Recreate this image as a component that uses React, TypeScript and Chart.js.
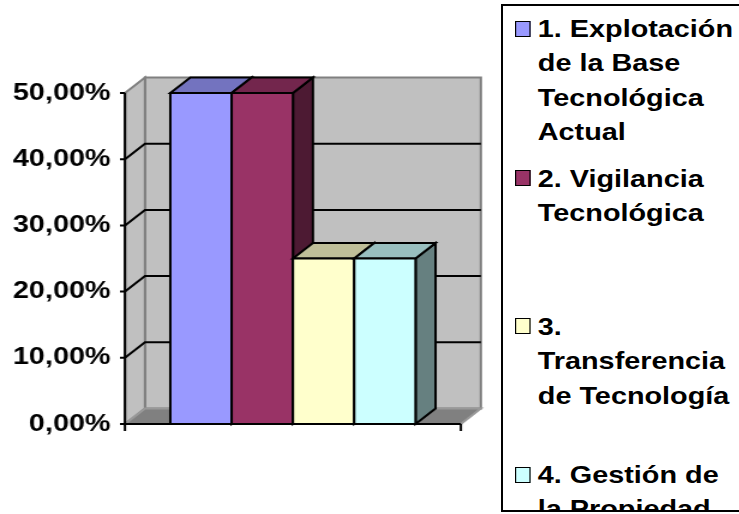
import React, { useEffect, useRef } from "react";
import { Chart, registerables } from "chart.js";

Chart.register(...registerables);

// ---- data ----
const CATEGORIES = [""];
const SERIES_NAMES = [
  "1. Explotación de la Base Tecnológica Actual",
  "2. Vigilancia Tecnológica",
  "3. Transferencia de Tecnología",
  "4. Gestión de la Propiedad Intelectual",
];
const SERIES_VALUES = [50, 50, 25, 25];
const Y_TICKS = [0, 10, 20, 30, 40, 50];
const Y_TICK_LABELS = ["0,00%", "10,00%", "20,00%", "30,00%", "40,00%", "50,00%"];
const LEGEND_LINES = [
  ["1. Explotación", "de la Base", "Tecnológica", "Actual"],
  ["2. Vigilancia", "Tecnológica"],
  ["3.", "Transferencia", "de Tecnología"],
  ["4. Gestión de", "la Propiedad", "Intelectual"],
];

// ---- styles ----
const FRONT = ["#9999FF", "#993366", "#FFFFCC", "#CCFFFF"];
const TOP = ["#7373BF", "#73264D", "#BFBF99", "#99BFBF"];
const SIDE = ["#4D4D80", "#4D1A33", "#808066", "#668080"];
const WALL = "#C0C0C0";
const WALL_EDGE = "#808080";
const FLOOR = "#808080";

const W = 739;
const H = 514;
const S = 1.2; // horizontal stretch of the picture
const CW = Math.round(W / S);
const DX = 20 / S;
const DY = 15.5;
const TICK_LEN = 5 / S;
const TICK_DOWN = 7;
const FONT = '"Liberation Sans", Arial, sans-serif';

const LEGEND_SWATCH_TOP = [15, 164, 312, 461];
const LEGEND_TEXT_TOP = [5.7, 155.7, 303.7, 451.7];

type Pt = [number, number];
function poly(ctx: CanvasRenderingContext2D, pts: Pt[]) {
  ctx.beginPath();
  ctx.moveTo(pts[0][0], pts[0][1]);
  for (let i = 1; i < pts.length; i++) ctx.lineTo(pts[i][0], pts[i][1]);
  ctx.closePath();
}

const threeD = {
  id: "threeD",
  beforeDatasetsDraw(chart: any) {
    const ctx: CanvasRenderingContext2D = chart.ctx;
    const ca = chart.chartArea;
    const ys = chart.scales.y;
    const top = ys.getPixelForValue(Y_TICKS[Y_TICKS.length - 1]);
    const bot = ys.getPixelForValue(Y_TICKS[0]);
    const L = ca.left;
    const R = ca.right;
    ctx.save();
    ctx.lineJoin = "miter";
    ctx.lineWidth = 2;
    // back wall
    ctx.fillStyle = WALL;
    ctx.strokeStyle = WALL_EDGE;
    poly(ctx, [[L + DX, top - DY], [R + DX, top - DY], [R + DX, bot - DY], [L + DX, bot - DY]]);
    ctx.fill();
    ctx.stroke();
    // left wall
    poly(ctx, [[L, top], [L + DX, top - DY], [L + DX, bot - DY], [L, bot]]);
    ctx.fill();
    ctx.stroke();
    // floor
    ctx.fillStyle = FLOOR;
    ctx.strokeStyle = "#999999";
    poly(ctx, [[L, bot], [L + DX, bot - DY], [R + DX, bot - DY], [R, bot]]);
    ctx.fill();
    ctx.stroke();
    // gridlines
    ctx.strokeStyle = "#000";
    for (const v of Y_TICKS.slice(1, -1)) {
      const py = ys.getPixelForValue(v);
      ctx.beginPath();
      ctx.moveTo(L, py);
      ctx.lineTo(L + DX, py - DY);
      ctx.lineTo(R + DX, py - DY);
      ctx.stroke();
    }
    // axes
    ctx.beginPath();
    ctx.moveTo(L, top);
    ctx.lineTo(L, bot);
    for (const v of Y_TICKS) {
      const py = ys.getPixelForValue(v);
      ctx.moveTo(L - TICK_LEN, py);
      ctx.lineTo(L, py);
    }
    ctx.moveTo(L, bot);
    ctx.lineTo(R, bot);
    ctx.moveTo(L, bot);
    ctx.lineTo(L, bot + TICK_DOWN);
    ctx.moveTo(R, bot);
    ctx.lineTo(R, bot + TICK_DOWN);
    ctx.stroke();
    ctx.restore();
  },
  afterDatasetsDraw(chart: any) {
    const ctx: CanvasRenderingContext2D = chart.ctx;
    ctx.save();
    ctx.lineJoin = "miter";
    ctx.lineWidth = 2;
    ctx.strokeStyle = "#000";
    chart.data.datasets.forEach((_: any, i: number) => {
      const meta = chart.getDatasetMeta(i);
      const el = meta.data[0];
      if (!el) return;
      const p = el.getProps(["x", "y", "base", "width"], true);
      const l = p.x - p.width / 2;
      const r = p.x + p.width / 2;
      const t = p.y;
      const b = p.base;
      // side
      ctx.fillStyle = SIDE[i];
      poly(ctx, [[r, t], [r + DX, t - DY], [r + DX, b - DY], [r, b]]);
      ctx.fill();
      ctx.stroke();
      // top
      ctx.fillStyle = TOP[i];
      poly(ctx, [[l, t], [l + DX, t - DY], [r + DX, t - DY], [r, t]]);
      ctx.fill();
      ctx.stroke();
      // front
      ctx.fillStyle = FRONT[i];
      poly(ctx, [[l, t], [r, t], [r, b], [l, b]]);
      ctx.fill();
      ctx.stroke();
    });
    ctx.restore();
  },
};

export default function App() {
  const ref = useRef<HTMLCanvasElement | null>(null);

  useEffect(() => {
    if (!ref.current) return;
    const chart = new Chart(ref.current, {
      type: "bar",
      data: {
        labels: CATEGORIES,
        datasets: SERIES_NAMES.map((name, i) => ({
          label: name,
          data: [SERIES_VALUES[i]],
          backgroundColor: FRONT[i],
          borderColor: "#000",
          borderWidth: 0,
          categoryPercentage: 0.73,
          barPercentage: 1,
        })),
      },
      options: {
        animation: false,
        responsive: false,
        devicePixelRatio: 1,
        events: [],
        layout: {
          padding: { left: 0, top: 93, right: CW - 461 / S, bottom: H - 424 },
        },
        plugins: {
          legend: { display: false },
          tooltip: { enabled: false },
          title: { display: false },
        },
        scales: {
          x: {
            display: false,
            offset: true,
            grid: { display: false },
          },
          y: {
            min: Y_TICKS[0],
            max: Y_TICKS[Y_TICKS.length - 1],
            grid: { display: false, drawTicks: false },
            border: { display: false },
            afterBuildTicks: (scale: any) => {
              scale.ticks = Y_TICKS.map((v) => ({ value: v }));
            },
            afterFit: (scale: any) => {
              scale.width = 125 / S;
            },
            ticks: {
              padding: 12,
              color: "#000",
              font: { family: FONT, size: 24, weight: "bold" },
              callback: (v: any) => Y_TICK_LABELS[Y_TICKS.indexOf(Number(v))] ?? "",
            },
          },
        },
      },
      plugins: [threeD],
    } as any);
    return () => chart.destroy();
  }, []);

  return (
    <div
      style={{
        position: "fixed",
        left: 0,
        top: 0,
        width: W,
        height: H,
        overflow: "hidden",
        background: "#fff",
      }}
    >
      <canvas
        ref={ref}
        width={CW}
        height={H}
        style={{ position: "absolute", left: 0, top: 0, width: W + "px", height: H + "px", display: "block" }}
      />
      <div
        style={{
          position: "absolute",
          left: 501,
          top: 4,
          width: 260,
          height: 508,
          border: "2px solid #000",
          boxSizing: "border-box",
          background: "#fff",
          overflow: "hidden",
        }}
      >
        <div
          style={{
            position: "absolute",
            left: 0,
            top: 0,
            width: 260 / S,
            height: "100%",
            transform: `scaleX(${S})`,
            transformOrigin: "0 0",
          }}
        >
          {LEGEND_LINES.map((lines, i) => (
            <React.Fragment key={i}>
              <div
                style={{
                  position: "absolute",
                  left: 10,
                  top: LEGEND_SWATCH_TOP[i],
                  width: 12.5,
                  height: 16,
                  background: FRONT[i],
                  border: "1.5px solid #000",
                  boxSizing: "border-box",
                }}
              />
              <div
                style={{
                  position: "absolute",
                  left: 29,
                  top: LEGEND_TEXT_TOP[i],
                  fontFamily: FONT,
                  fontWeight: "bold",
                  fontSize: 24,
                  lineHeight: "34.5px",
                  whiteSpace: "nowrap",
                  color: "#000",
                }}
              >
                {lines.map((l, j) => (
                  <div key={j}>{l}</div>
                ))}
              </div>
            </React.Fragment>
          ))}
        </div>
      </div>
    </div>
  );
}
